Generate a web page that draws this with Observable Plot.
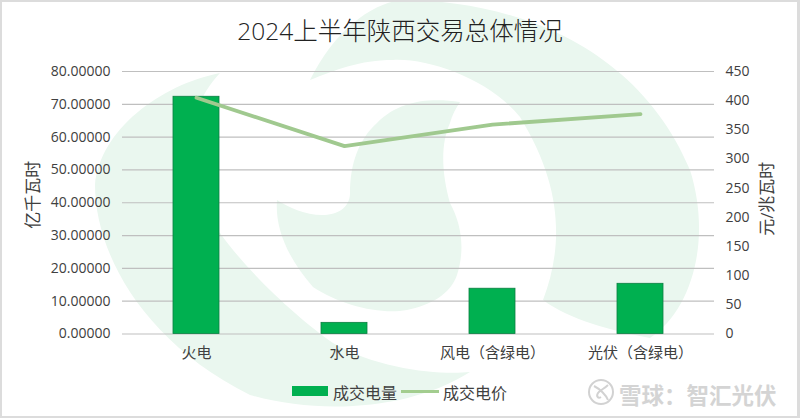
<!DOCTYPE html>
<html><head><meta charset="utf-8">
<script src="https://cdn.jsdelivr.net/npm/d3@7"></script>
<script src="https://cdn.jsdelivr.net/npm/@observablehq/plot@0.6"></script>
<style>
html,body{margin:0;padding:0;background:#fff}
#wrap{position:relative;width:800px;height:418px;overflow:hidden;font-family:"Open Sans","Noto Sans CJK SC",sans-serif;color:#404040}
#wm{position:absolute;left:0;top:0}
#chart{position:absolute;left:0;top:0;width:800px;height:418px}
#frame{position:absolute;inset:0;border:2px solid #dcdcdc;border-width:2px 3px 2px 2px;box-sizing:border-box;pointer-events:none}
.abs{position:absolute;white-space:nowrap}
</style></head><body>
<div id="wrap">
<svg id="wm" width="800" height="418" viewBox="0 0 800 418">
<g fill="#eaf7ef">
<path d="M400,0 C520,0 640,50 690,170 C712,240 692,310 650,338 C610,330 570,320 543,300 C562,250 565,190 520,117 C490,80 430,58 393,60 C360,60 335,70 310,80 C335,30 370,5 400,0Z"/>
<path d="M220,73 C160,85 100,130 95,185 C95,250 140,340 250,395 C320,415 410,410 470,372 C440,375 380,370 333,343 C300,320 250,275 220,233 C165,190 185,110 220,73Z"/>
<path d="M460,102 C430,98 400,100 377,123 C358,140 350,165 350,193 C350,208 337,215 322,215 C305,215 290,208 277,200 C275,225 285,255 313,287 C340,305 380,315 407,310 C430,305 450,295 457,275 C465,250 462,225 450,203 C442,175 440,145 450,123 C452,115 456,108 460,102Z"/>
</g>
</svg>
<div id="chart"></div>
<div class="abs" style="left:0;width:800px;top:12px;text-align:center;font-size:24.5px;font-weight:300;color:#222">2024上半年陕西交易总体情况</div>
<div class="abs" style="left:292px;top:386px;width:36px;height:10px;background:#00b050"></div>
<div class="abs" style="left:333px;top:380px;font-size:16px">成交电量</div>
<div class="abs" style="left:401px;top:390px;width:38px;height:3px;background:#a3cd8f"></div>
<div class="abs" style="left:443px;top:380px;font-size:16px">成交电价</div>
<svg class="abs" style="left:586px;top:377px" width="30" height="30" viewBox="0 0 30 30"><g fill="none" stroke="#d2d2d2" stroke-width="2"><circle cx="15" cy="15" r="12"/><path d="M8,9 C14,12 20,18 22,23 M22,8 C18,12 14,13 12,16 C10,19 12,22 15,20"/></g></svg>
<div class="abs" style="left:619px;top:378px;font-size:22.5px;font-weight:700;color:#d4d4d4">雪球：智汇光伏</div>
<div id="frame"></div>
</div>
<script>
const categories = ["火电","水电","风电（含绿电）","光伏（含绿电）"];
const volume = [72.3, 3.4, 13.8, 15.3];
const price = [405, 322, 359, 377];
const volumeTicks = [0,10,20,30,40,50,60,70,80];
const priceTicks = [0,50,100,150,200,250,300,350,400,450];
const volumeMax = 80, priceMax = 450;
const toVolume = d3.scaleLinear([0,priceMax],[0,volumeMax]);
const rows = categories.map((c,i)=>({c,v:volume[i],p:price[i]}));
const ff = '"Open Sans","Noto Sans CJK SC",sans-serif';
const chart = Plot.plot({
  width:800,height:418,
  marginLeft:122,marginRight:86,marginTop:71,marginBottom:84.5,
  style:{background:"transparent",fontFamily:ff,color:"#404040",fontSize:"14px"},
  x:{domain:categories,paddingInner:0.69,paddingOuter:0.345,align:0.5,label:null},
  y:{domain:[0,volumeMax],label:null},
  marks:[
    Plot.ruleY(volumeTicks,{stroke:"#bfbfbf",strokeWidth:1.2,strokeOpacity:1}),
    Plot.barY(rows,{x:"c",y:"v",fill:"#00b050",stroke:"#0b7f42",strokeWidth:0.8}),
    Plot.line(rows,{x:"c",y:d=>toVolume(d.p),stroke:"#a0c98f",strokeWidth:3.8,strokeLinecap:"round"}),
    Plot.axisX({tickSize:0,tickPadding:13.5,fontSize:15,label:null,fill:"#404040"}),
    Plot.axisY(volumeTicks,{anchor:"left",tickSize:0,tickPadding:12,fontSize:14,label:null,fill:"#404040",tickFormat:d=>d.toFixed(5)}),
    Plot.axisY(priceTicks.map(toVolume),{anchor:"right",tickSize:0,tickPadding:11,fontSize:14,label:null,fill:"#404040",tickFormat:d=>String(Math.round(toVolume.invert(d)))}),
    Plot.text(["亿千瓦时"],{frameAnchor:"left",textAnchor:"middle",dx:-89,dy:-8,rotate:-90,fontSize:17,fill:"#404040"}),
    Plot.text(["元/兆瓦时"],{frameAnchor:"right",textAnchor:"middle",dx:53,dy:-4,rotate:-90,fontSize:17,fill:"#404040"})
  ]
});
document.getElementById("chart").append(chart);
</script>
</body></html>
